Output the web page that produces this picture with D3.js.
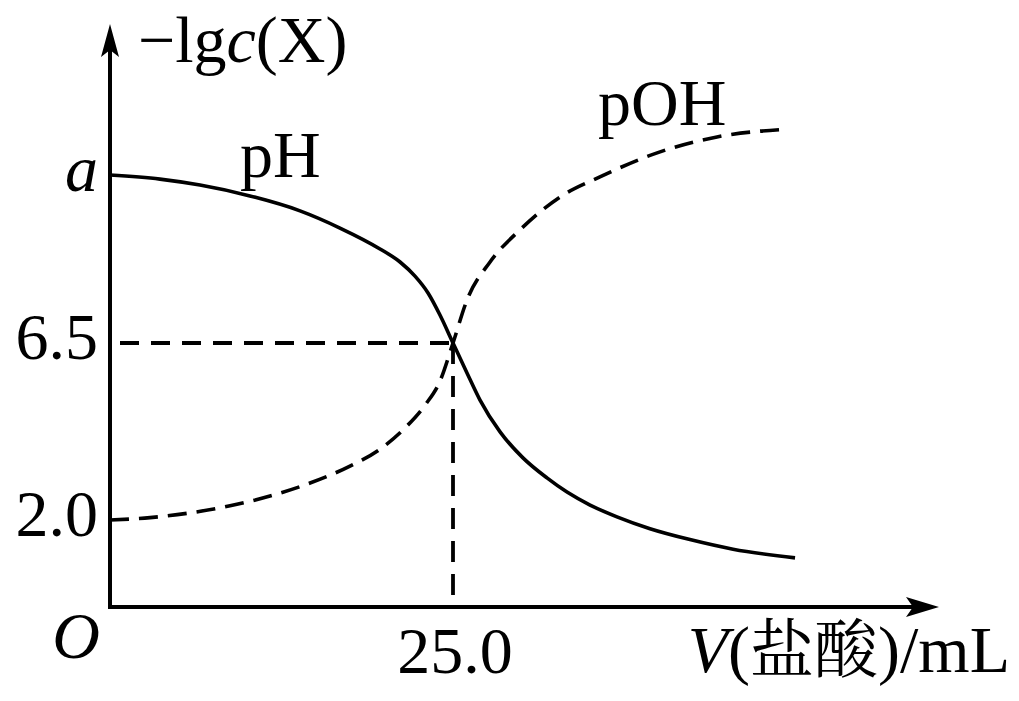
<!DOCTYPE html>
<html><head><meta charset="utf-8">
<script src="https://cdn.jsdelivr.net/npm/d3@7"></script>
<style>body{margin:0;background:#fff}svg{display:block}</style>
</head><body>
<svg id="chart" width="1019" height="701"></svg>
<script>
// Data (volume of HCl in mL, -lg c(X))
const pHVolume  = [0, 3.64, 6.56, 10.2, 13.85, 16.76, 19.68, 21.14, 22.23, 23.18, 24.05, 25.0, 26.02, 26.97, 28.43, 30.1, 31.85, 33.31, 34.99, 36.95, 39.36, 42.27, 45.41, 49.93];
const pHValue   = [11.0, 10.89, 10.73, 10.44, 10.04, 9.58, 9.02, 8.67, 8.29, 7.84, 7.25, 6.5, 5.74, 5.05, 4.24, 3.58, 3.07, 2.71, 2.38, 2.08, 1.80, 1.55, 1.33, 1.13];
const pOHVolume = [0, 2.92, 5.83, 8.75, 11.66, 14.58, 17.49, 19.68, 21.5, 22.96, 24.05, 25.0, 26.02, 27.7, 29.88, 32.8, 35.71, 40.09, 44.24, 49.42];
const pOHValue  = [2.0, 2.06, 2.18, 2.36, 2.61, 2.94, 3.37, 3.80, 4.34, 4.92, 5.53, 6.5, 7.65, 8.67, 9.53, 10.41, 10.95, 11.62, 12.02, 12.23];
const yTickValues = [11.0, 6.5, 2.0];
const yTickLabels = ["a", "6.5", "2.0"];
const xTickValues = [25.0];
const xTickLabels = ["25.0"];
const equivalencePoint = [25.0, 6.5];
const seriesLabels = ["pH", "pOH"];

const svg = d3.select("#chart");
const FONT = "'Liberation Serif','Times New Roman',serif";
const FS = 66;

// scales: schematic axis, piecewise linear in y
const x = d3.scaleLinear().domain([0, 25]).range([110, 453]);
const y = d3.scaleLinear().domain([0, 2, 6.5, 11]).range([607, 520, 343, 175]);

const x0 = x(0), y0 = y(0);

// axes lines
svg.append("line").attr("x1", x0 - 2).attr("x2", 915).attr("y1", y0).attr("y2", y0)
  .attr("stroke", "#000").attr("stroke-width", 4);
svg.append("line").attr("x1", x0).attr("x2", x0).attr("y1", y0 + 2).attr("y2", 48)
  .attr("stroke", "#000").attr("stroke-width", 4);
// arrowheads
svg.append("path").attr("d", `M939,${y0} L906,${y0 - 10} L913,${y0} L906,${y0 + 10} Z`).attr("fill", "#000");
svg.append("path").attr("d", `M${x0},24 L${x0 - 9},57 L${x0},50 L${x0 + 9},57 Z`).attr("fill", "#000");

// reference dashed lines
svg.append("line")
  .attr("x1", x0 + 10).attr("x2", x(equivalencePoint[0]))
  .attr("y1", y(equivalencePoint[1])).attr("y2", y(equivalencePoint[1]))
  .attr("stroke", "#000").attr("stroke-width", 3.8).attr("stroke-dasharray", "19,12");
svg.append("line")
  .attr("x1", x(equivalencePoint[0])).attr("x2", x(equivalencePoint[0]))
  .attr("y1", y(equivalencePoint[1])).attr("y2", y0)
  .attr("stroke", "#000").attr("stroke-width", 3.8).attr("stroke-dasharray", "21,12");

// curves
const line = d3.line().x(d => x(d[0])).y(d => y(d[1])).curve(d3.curveMonotoneX);
svg.append("path").datum(d3.zip(pHVolume, pHValue)).attr("d", line)
  .attr("fill", "none").attr("stroke", "#000").attr("stroke-width", 3.6).attr("stroke-linejoin", "round");
svg.append("path").datum(d3.zip(pOHVolume, pOHValue)).attr("d", line)
  .attr("fill", "none").attr("stroke", "#000").attr("stroke-width", 3.6).attr("stroke-dasharray", "19,10");

// y tick labels
svg.selectAll("text.yt").data(yTickValues).join("text").attr("class", "yt")
  .attr("x", x0 - 12).attr("y", d => y(d)).attr("dy", "0.24em")
  .attr("text-anchor", "end").attr("font-family", FONT).attr("font-size", FS)
  .attr("font-style", (d, i) => yTickLabels[i] === "a" ? "italic" : "normal")
  .text((d, i) => yTickLabels[i]);

// x tick labels
svg.selectAll("text.xt").data(xTickValues).join("text").attr("class", "xt")
  .attr("x", d => x(d) + 2).attr("y", y0 + 66)
  .attr("text-anchor", "middle").attr("font-family", FONT).attr("font-size", FS)
  .text((d, i) => xTickLabels[i]);

// origin
svg.append("text").attr("x", x0 - 10).attr("y", y0 + 51).attr("text-anchor", "end")
  .attr("font-family", FONT).attr("font-size", FS).attr("font-style", "italic").text("O");

// y title
const yt = svg.append("text").attr("x", x0 + 28).attr("y", 62)
  .attr("font-family", FONT).attr("font-size", FS);
yt.append("tspan").text("\u2212lg");
yt.append("tspan").attr("font-style", "italic").text("c");
yt.append("tspan").text("(X)");

// x title
const xt = svg.append("text").attr("x", 1010).attr("y", y0 + 65).attr("text-anchor", "end")
  .attr("font-family", FONT).attr("font-size", FS);
xt.append("tspan").attr("font-style", "italic").text("V");
xt.append("tspan").text("(");
xt.append("tspan").attr("font-family", "'Noto Serif CJK SC','Noto Sans CJK SC',sans-serif").attr("font-size", 64).text("盐酸");
xt.append("tspan").text(")/mL");

// series labels
svg.append("text").attr("x", 240).attr("y", 177).attr("font-family", FONT).attr("font-size", FS).text(seriesLabels[0]);
svg.append("text").attr("x", 598).attr("y", 125).attr("font-family", FONT).attr("font-size", FS).text(seriesLabels[1]);
</script>
</body></html>
